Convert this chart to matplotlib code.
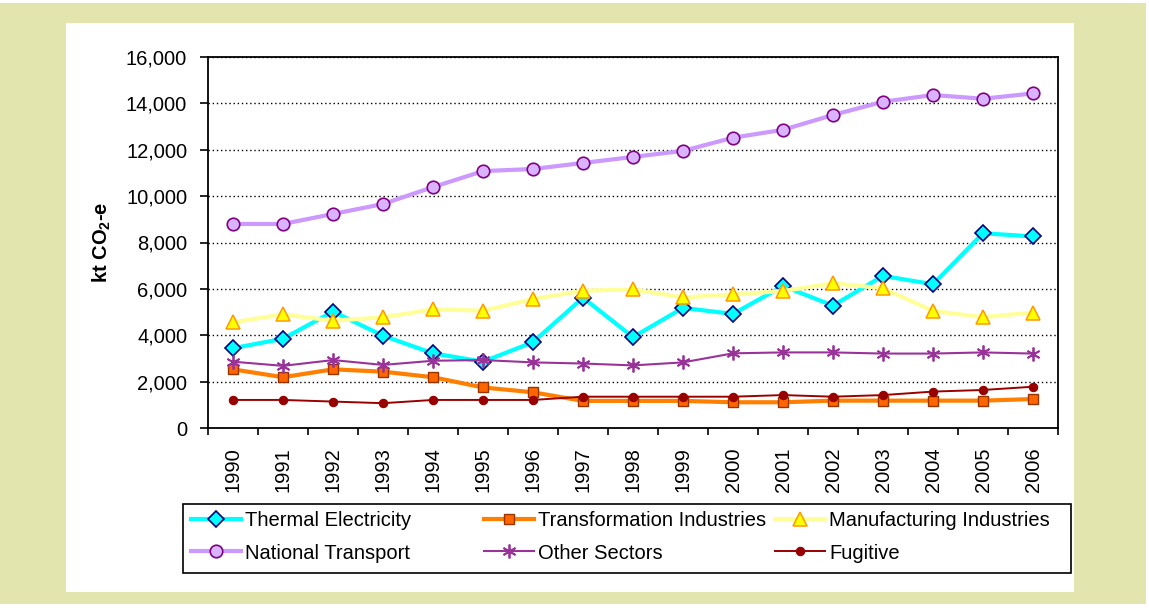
import matplotlib
matplotlib.use("Agg")
import matplotlib.pyplot as plt
from matplotlib.patches import Rectangle
from matplotlib.ticker import FuncFormatter, FixedLocator

# Data (kt CO2-e)
years = [str(y) for y in range(1990, 2007)]
thermal = [3440, 3850, 5020, 3980, 3220, 2860, 3700, 5620, 3920, 5180,
           4920, 6120, 5280, 6560, 6200, 8400, 8260]
transformation = [2530, 2190, 2530, 2430, 2190, 1750, 1540, 1170, 1170, 1170,
                  1110, 1110, 1180, 1180, 1180, 1180, 1250]
manufacturing = [4560, 4900, 4630, 4770, 5120, 5060, 5560, 5920, 5980, 5630,
                 5760, 5910, 6240, 6030, 5050, 4780, 4980]
transport = [8800, 8800, 9230, 9660, 10390, 11080, 11170, 11430, 11690, 11950,
             12520, 12860, 13500, 14070, 14360, 14200, 14430]
other = [2860, 2680, 2930, 2720, 2900, 2930, 2830, 2780, 2700, 2830,
         3220, 3260, 3260, 3210, 3210, 3260, 3210]
fugitive = [1210, 1210, 1140, 1070, 1210, 1210, 1210, 1350, 1350, 1350,
            1350, 1420, 1350, 1420, 1570, 1640, 1780]

plt.rcParams["font.family"] = ["Liberation Sans", "DejaVu Sans"]
plt.rcParams["mathtext.fontset"] = "custom"
plt.rcParams["mathtext.rm"] = "Liberation Sans"
plt.rcParams["mathtext.bf"] = "Liberation Sans:bold"

W, H = 1149, 608
fig = plt.figure(figsize=(W / 100, H / 100), dpi=100, facecolor="white")

# background panels
fig.patches.append(Rectangle((0, 1 - 604 / H), 1146 / W, 601 / H, transform=fig.transFigure,
                             facecolor="#E2E6AE", edgecolor="none", zorder=-10))
fig.patches.append(Rectangle((66 / W, 1 - 592 / H), (1074 - 66) / W, (592 - 23) / H,
                             transform=fig.transFigure, facecolor="white",
                             edgecolor="none", zorder=-9))

ax = fig.add_axes([208 / W, 1 - 428 / H, (1058 - 208) / W, (428 - 57) / H])
ax.set_facecolor("white")
x = list(range(len(years)))

series = [
    ("Thermal Electricity", thermal,
     dict(color="#00FFFF", lw=3.0, marker="D", ms=8.5, mfc="#00FFFF", mec="#000080", mew=1.2)),
    ("Transformation Industries", transformation,
     dict(color="#FF8000", lw=3.0, marker="s", ms=7.5, mfc="#FF6600", mec="#993300", mew=1.0)),
    ("Manufacturing Industries", manufacturing,
     dict(color="#FFFF99", lw=3.0, marker="^", ms=10, mfc="#FFFF00", mec="#FF9900", mew=1.1)),
    ("National Transport", transport,
     dict(color="#CC99FF", lw=3.0, marker="o", ms=9, mfc="#D9B3FF", mec="#800080", mew=1.2)),
    ("Other Sectors", other,
     dict(color="#993399", lw=1.5, marker=(6, 2, 0), ms=10, mec="#993399", mew=1.3)),
    ("Fugitive", fugitive,
     dict(color="#990000", lw=1.4, marker="o", ms=6, mfc="#990000", mec="#990000", mew=0.8)),
]

handles = {}
for name, vals, style in series:
    line, = ax.plot(x, vals, label=name, solid_joinstyle="round", **style)
    handles[name] = line

ax.set_xlim(-0.5, len(years) - 0.5)
ax.set_ylim(0, 16000)
ax.set_yticks(range(0, 16001, 2000))
ax.yaxis.set_major_formatter(FuncFormatter(lambda v, p: f"{v:,.0f}"))
ax.yaxis.grid(True, linestyle=(0, (1, 2)), color="black", lw=1.0)
ax.set_axisbelow(True)

ax.set_xticks(x)
ax.set_xticklabels(years, rotation=90)
ax.xaxis.set_minor_locator(FixedLocator([i - 0.5 for i in range(len(years) + 1)]))
ax.tick_params(axis="x", which="major", length=0, pad=14, labelsize=14.5)
ax.tick_params(axis="x", which="minor", length=5, width=1.2, direction="out")
ax.tick_params(axis="y", length=6, width=1.2, pad=9, labelsize=14.5)
for s in ax.spines.values():
    s.set_linewidth(1.3)
    s.set_color("black")

ax.set_ylabel(r"kt CO$_\mathbf{2}$-e", fontsize=14.5, fontweight="bold")
ax.yaxis.label.set(ha="center", va="center")
ax.yaxis.set_label_coords((102 - 208) / (1058 - 208), 0.5)

# legend: frame plus three columns
fig.patches.append(Rectangle((183 / W, 1 - 573 / H), (1071 - 183) / W, (573 - 504) / H,
                             transform=fig.transFigure, facecolor="white",
                             edgecolor="black", lw=1.2, zorder=1))
columns = [
    (191, ["Thermal Electricity", "National Transport"]),
    (484, ["Transformation Industries", "Other Sectors"]),
    (775, ["Manufacturing Industries", "Fugitive"]),
]
for xpos, names in columns:
    leg = fig.legend([handles[n] for n in names], names, loc="center left",
                     bbox_to_anchor=(xpos / W, 1 - 537 / H), frameon=False,
                     fontsize=14.5, handlelength=2.5, handletextpad=0.2,
                     labelspacing=0.65, borderpad=0, borderaxespad=0, numpoints=1)
    leg.set_zorder(2)

fig.savefig("out.png", dpi=100, facecolor=fig.get_facecolor())
